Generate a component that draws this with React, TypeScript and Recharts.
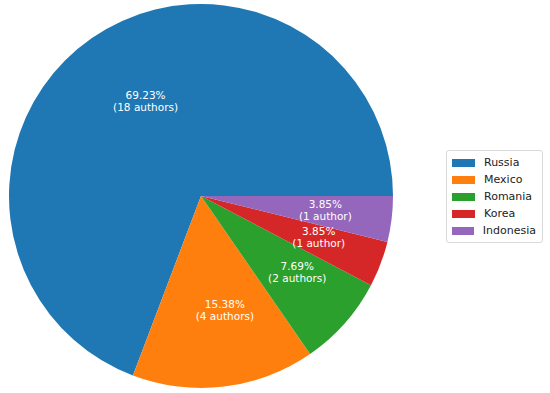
import React from 'react';
import { PieChart, Pie, Cell, Legend } from 'recharts';

const countries = ['Russia', 'Mexico', 'Romania', 'Korea', 'Indonesia'];
const authors = [18, 4, 2, 1, 1];
const colors = ['#1f77b4', '#ff7f0e', '#2ca02c', '#d62728', '#9467bd'];

const data = countries.map((name, i) => ({ name, value: authors[i] }));

const FONT = '"DejaVu Sans", sans-serif';

const renderLabel = (props: any) => {
  const { cx, cy, midAngle, outerRadius, percent, value } = props;
  const r = outerRadius * 0.6;
  const rad = (Math.PI / 180) * midAngle;
  const x = cx + r * Math.cos(rad) + 10;
  const y = cy - r * Math.sin(rad);
  const unit = value === 1 ? 'author' : 'authors';
  return (
    <text
      x={x}
      y={y}
      fill="#ffffff"
      textAnchor="middle"
      fontSize={10.5}
      fontFamily={FONT}
    >
      <tspan x={x} dy={-2}>{(percent * 100).toFixed(2)}%</tspan>
      <tspan x={x} dy={12}>({value} {unit})</tspan>
    </text>
  );
};

const LegendBox = (props: any) => {
  const items = [...(props.payload || [])].sort(
    (a: any, b: any) => countries.indexOf(a.value) - countries.indexOf(b.value)
  );
  return (
    <div
      style={{
        border: '1px solid #d9d9d9',
        borderRadius: 3,
        background: '#fff',
        padding: '3px 6px 3px 5px',
        fontFamily: FONT,
        fontSize: 11,
        color: '#222',
      }}
    >
      {items.map((entry: any) => (
        <div key={entry.value} style={{ display: 'flex', alignItems: 'center', height: 17 }}>
          <span
            style={{
              display: 'inline-block',
              width: 23,
              height: 8,
              background: entry.color,
              marginRight: 9,
            }}
          />
          <span>{entry.value}</span>
        </div>
      ))}
    </div>
  );
};

const App = () => {
  return (
    <div style={{ position: 'absolute', left: 0, top: 0, width: 550, height: 393, background: '#fff' }}>
      <PieChart width={550} height={393} margin={{ top: 0, right: 0, bottom: 0, left: 0 }}>
        <Pie
          data={data}
          dataKey="value"
          nameKey="name"
          cx={201}
          cy={196}
          outerRadius={192}
          startAngle={0}
          endAngle={360}
          stroke="none"
          labelLine={false}
          label={renderLabel}
          isAnimationActive={false}
        >
          {data.map((d, i) => (
            <Cell key={d.name} fill={colors[i]} />
          ))}
        </Pie>
        <Legend
          content={<LegendBox />}
          wrapperStyle={{ position: 'absolute', left: 446, top: 150, width: 97 }}
        />
      </PieChart>
    </div>
  );
};

export default App;
